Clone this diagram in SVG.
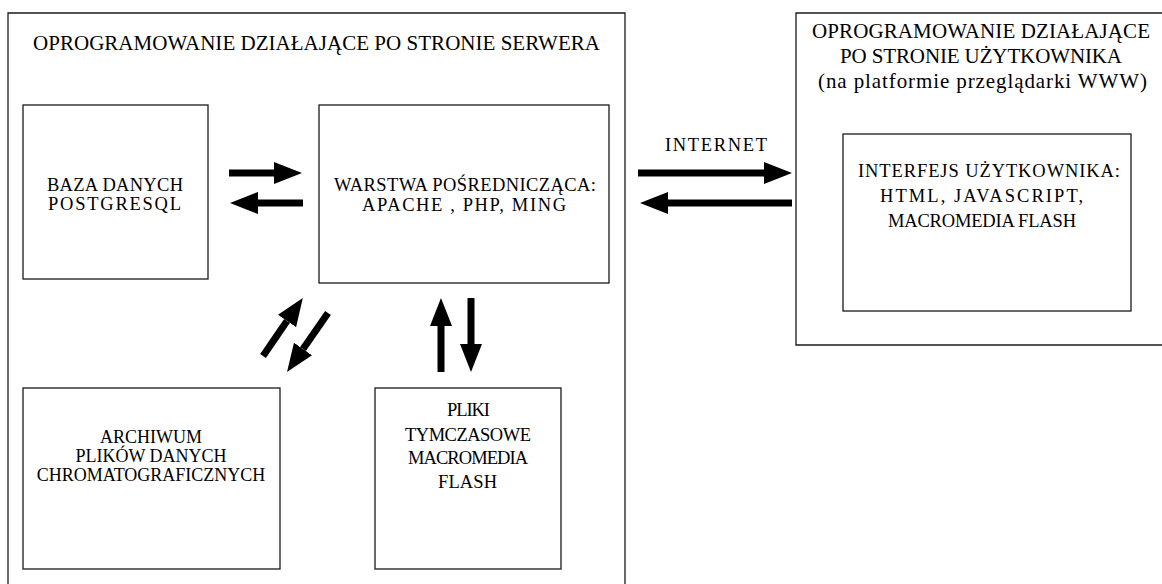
<svg xmlns="http://www.w3.org/2000/svg" width="1162" height="584" viewBox="0 0 1162 584">
<style>
  .box { fill: #ffffff; stroke: #1a1a1a; stroke-width: 1.3; }
  .frame { fill: none; stroke: #1a1a1a; stroke-width: 1.3; }
  text { font-family: "Liberation Serif", "Times New Roman", serif; fill: #000; }
  .t20 { font-size: 21px; }
  .t17 { font-size: 18.5px; }
  .t18 { font-size: 18px; }
  .mid { text-anchor: middle; }
  .arr { stroke: #000; stroke-width: 7; fill: none; marker-end: url(#head); }
</style>
<defs>
  <marker id="head" markerUnits="userSpaceOnUse" markerWidth="28" markerHeight="22" refX="0" refY="11" orient="auto" viewBox="0 0 28 22">
    <path d="M0,0 L28,11 L0,22 z" fill="#000"/>
  </marker>
</defs>
<rect width="1162" height="584" fill="#ffffff"/>

<g id="server">
  <path class="frame" d="M8,600 L8,13 L625,13 L625,600"/>
  <text class="t20" x="33" y="50" textLength="567" lengthAdjust="spacing">OPROGRAMOWANIE DZIAŁAJĄCE PO STRONIE SERWERA</text>
</g>

<g id="client">
  <path class="frame" d="M1170,13 L796,13 L796,345 L1170,345"/>
  <text class="t20" x="812" y="38" textLength="338" lengthAdjust="spacing">OPROGRAMOWANIE DZIAŁAJĄCE</text>
  <text class="t20" x="840" y="63" textLength="282" lengthAdjust="spacing">PO STRONIE UŻYTKOWNIKA</text>
  <text class="t20" x="818" y="88" textLength="329" lengthAdjust="spacing">(na platformie przeglądarki WWW)</text>
</g>

<g id="baza">
  <rect class="box" x="23" y="105" width="185" height="174"/>
  <text class="t17" x="47" y="191" textLength="136" lengthAdjust="spacing">BAZA DANYCH</text>
  <text class="t17" x="48" y="210" textLength="133" lengthAdjust="spacing">POSTGRESQL</text>
</g>

<g id="warstwa">
  <rect class="box" x="319" y="105" width="290" height="178"/>
  <text class="t17" x="334" y="191" textLength="262" lengthAdjust="spacing">WARSTWA POŚREDNICZĄCA:</text>
  <text class="t17" x="362" y="211" textLength="204" lengthAdjust="spacing">APACHE , PHP, MING</text>
</g>

<g id="interfejs">
  <rect class="box" x="843" y="134" width="288" height="177"/>
  <text class="t17" x="858" y="177" textLength="262" lengthAdjust="spacing">INTERFEJS UŻYTKOWNIKA:</text>
  <text class="t17" x="880" y="202" textLength="203" lengthAdjust="spacing">HTML, JAVASCRIPT,</text>
  <text class="t17" x="888" y="227" textLength="188" lengthAdjust="spacing">MACROMEDIA FLASH</text>
</g>

<g id="archiwum">
  <rect class="box" x="23" y="388" width="257" height="181"/>
  <text class="t18 mid" x="151" y="443">ARCHIWUM</text>
  <text class="t18 mid" x="151" y="462">PLIKÓW DANYCH</text>
  <text class="t18 mid" x="151" y="481">CHROMATOGRAFICZNYCH</text>
</g>

<g id="pliki">
  <rect class="box" x="375" y="388" width="186" height="181"/>
  <text class="t17" x="447" y="416" textLength="43" lengthAdjust="spacing">PLIKI</text>
  <text class="t17" x="405" y="441" textLength="126" lengthAdjust="spacing">TYMCZASOWE</text>
  <text class="t17" x="408" y="464" textLength="120" lengthAdjust="spacing">MACROMEDIA</text>
  <text class="t17" x="438" y="488" textLength="59" lengthAdjust="spacing">FLASH</text>
</g>

<g id="internet-label">
  <text class="t17" x="665" y="151" textLength="102" lengthAdjust="spacing">INTERNET</text>
</g>

<g id="connectors">
  <line class="arr" x1="229" y1="173" x2="274" y2="173"/>
  <line class="arr" x1="303" y1="203" x2="258" y2="203"/>
  <line class="arr" x1="638" y1="173" x2="764" y2="173"/>
  <line class="arr" x1="792" y1="203" x2="668" y2="203"/>
  <line class="arr" x1="263" y1="356" x2="287" y2="321"/>
  <line class="arr" x1="328" y1="313" x2="303" y2="349"/>
  <line class="arr" x1="441" y1="372" x2="441" y2="326"/>
  <line class="arr" x1="471" y1="298" x2="471" y2="344"/>
</g>
</svg>
